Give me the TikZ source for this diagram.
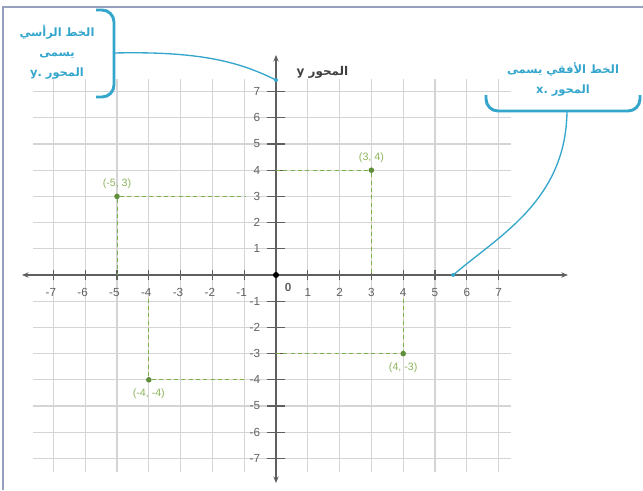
\documentclass[tikz,border=0pt]{standalone}
\usepackage{fontspec}
\setmainfont{Liberation Sans}
\newfontfamily\arabicfont[Script=Arabic]{DejaVu Sans}
\TeXXeTstate=1
\usetikzlibrary{arrows.meta, positioning, calc}
\definecolor{calloutblue}{RGB}{52,166,204}
\definecolor{pointgreen}{RGB}{120,178,72}
\definecolor{labelgreen}{RGB}{140,180,92}
\definecolor{gridgray}{RGB}{212,212,212}
\definecolor{axisgray}{RGB}{95,95,95}
\definecolor{framegray}{RGB}{150,160,188}

\begin{document}
\begin{tikzpicture}[
    x=0.75pt, y=-0.75pt,
    gridline/.style={draw=gridgray, line width=0.8pt},
    axisline/.style={draw=axisgray, line width=0.9pt, {Stealth[length=5pt,width=4pt]}-{Stealth[length=5pt,width=4pt]}},
    tickmark/.style={draw=axisgray, line width=0.8pt},
    ticklabel/.style={font=\fontsize{8.8}{10}\selectfont, text=black!62, inner sep=1pt},
    guide/.style={draw=pointgreen, line width=0.7pt, dash pattern=on 3pt off 2.5pt},
    ptdot/.style={circle, fill=pointgreen!80!black, inner sep=0pt, minimum size=4.2pt},
    ptlabel/.style={font=\fontsize{8}{10}\selectfont, text=labelgreen, inner sep=2pt},
    bracket/.style={draw=calloutblue, line width=2.2pt, rounded corners=9pt},
    leader/.style={draw=calloutblue, line width=1pt},
    leaderdot/.style={circle, fill=calloutblue, inner sep=0pt, minimum size=3pt},
    callout/.style={font=\arabicfont\bfseries\fontsize{8.6}{15}\selectfont, text=calloutblue, align=center}
]
\useasboundingbox (0,0) rectangle (643,490);
% ---------------- FRAME ----------------
\draw[framegray, line width=1.5pt] (3,490) -- (3,7) -- (643,7);
% ---------------- GRID AND AXES ----------------
\begin{scope}[shift={(276,275)}, x=23.85pt, y=19.65pt]
  \foreach \i in {-7,...,7} {
    \draw[gridline] (\i,-7.5) -- (\i,7.5);
    \draw[gridline] (-7.65,\i) -- (7.4,\i);
  }
  \draw[axisline] (-7.99,0) -- (9.18,0);
  \draw[axisline] (0,-7.94) -- (0,8.4);
  \foreach \i in {1,...,7} {
    \draw[tickmark] (\i,-0.2) -- (\i,0.2);
    \draw[tickmark] (-\i,-0.2) -- (-\i,0.2);
    \draw[tickmark] (-0.27,\i) -- (0.27,\i);
    \draw[tickmark] (-0.27,-\i) -- (0.27,-\i);
    \node[ticklabel] (xp\i) at (\i,-0.65) {\i};
    \node[ticklabel] (xn\i) at (-\i-0.08,-0.65) {-\i};
    \node[ticklabel, anchor=east] (yp\i) at (-0.45,\i) {\i};
    \node[ticklabel, anchor=east] (yn\i) at (-0.45,-\i) {-\i};
  }
  \node[circle, fill=black, inner sep=0pt, minimum size=4.5pt] (origin) at (0,0) {};
  \node[ticklabel, font=\fontsize{8.8}{10}\selectfont\bfseries] (zero) at (0.38,-0.46) {0};
  \node[font=\arabicfont\bfseries\fontsize{9}{11}\selectfont, text=black!75, anchor=west] (ylabel) at (0.5,7.75) {\beginR المحور y\endR};
  % points and their guide lines
  \node[ptdot] (pa) at (-5,3) {};
  \node[ptdot] (pb) at (3,4) {};
  \node[ptdot] (pc) at (4,-3) {};
  \node[ptdot] (pd) at (-4,-4) {};
  \coordinate (pa-y) at (-0.97,3);
  \coordinate (pa-x) at (-5,0);
  \coordinate (pb-y) at (0,4);
  \coordinate (pb-x) at (3,0);
  \coordinate (pc-y) at (0,-3);
  \coordinate (pc-x) at (4,-0.9);
  \coordinate (pd-y) at (-0.97,-4);
  \coordinate (pd-x) at (-4,-0.9);
  \draw[guide] (pa) -- (pa-y);
  \draw[guide] (pa) -- (pa-x);
  \draw[guide] (pb-y) -- (pb);
  \draw[guide] (pb) -- (pb-x);
  \draw[guide] (pc-y) -- (pc);
  \draw[guide] (pc-x) -- (pc);
  \draw[guide] (pd) -- (pd-y);
  \draw[guide] (pd-x) -- (pd);
  \node[ptlabel, above=1pt of pa] {(-5, 3)};
  \node[ptlabel, above=1pt of pb] {(3, 4)};
  \node[ptlabel, below=2pt of pc] {(4, -3)};
  \node[ptlabel, below=2pt of pd] {(-4, -4)};
  \coordinate (ytip) at (0,7.44);
  \coordinate (xtip) at (5.57,0);
\end{scope}
% ---------------- CALLOUTS ----------------
\node[callout] (vnote) at (57,52) {\beginR الخط الرأسي\endR\\ \beginR يسمى\endR\\ \beginR المحور y.\endR};
\draw[bracket] (96,10) -- (114,10) -- (114,97) -- (96,97);
\coordinate (vjoin) at (114,53);
\draw[leader] (vjoin) .. controls (200,51) and (240,62) .. (ytip);
\node[leaderdot] at (ytip) {};

\node[callout] (hnote) at (563,79) {\beginR الخط الأفقي يسمى\endR\\ \beginR المحور x.\endR};
\draw[bracket] (486,95) -- (486,111) -- (640,111) -- (640,95);
\coordinate (hjoin) at (567,111);
\draw[leader] (hjoin) .. controls (566,200) and (500,235) .. (xtip);
\node[leaderdot] at (xtip) {};
\end{tikzpicture}
\end{document}
